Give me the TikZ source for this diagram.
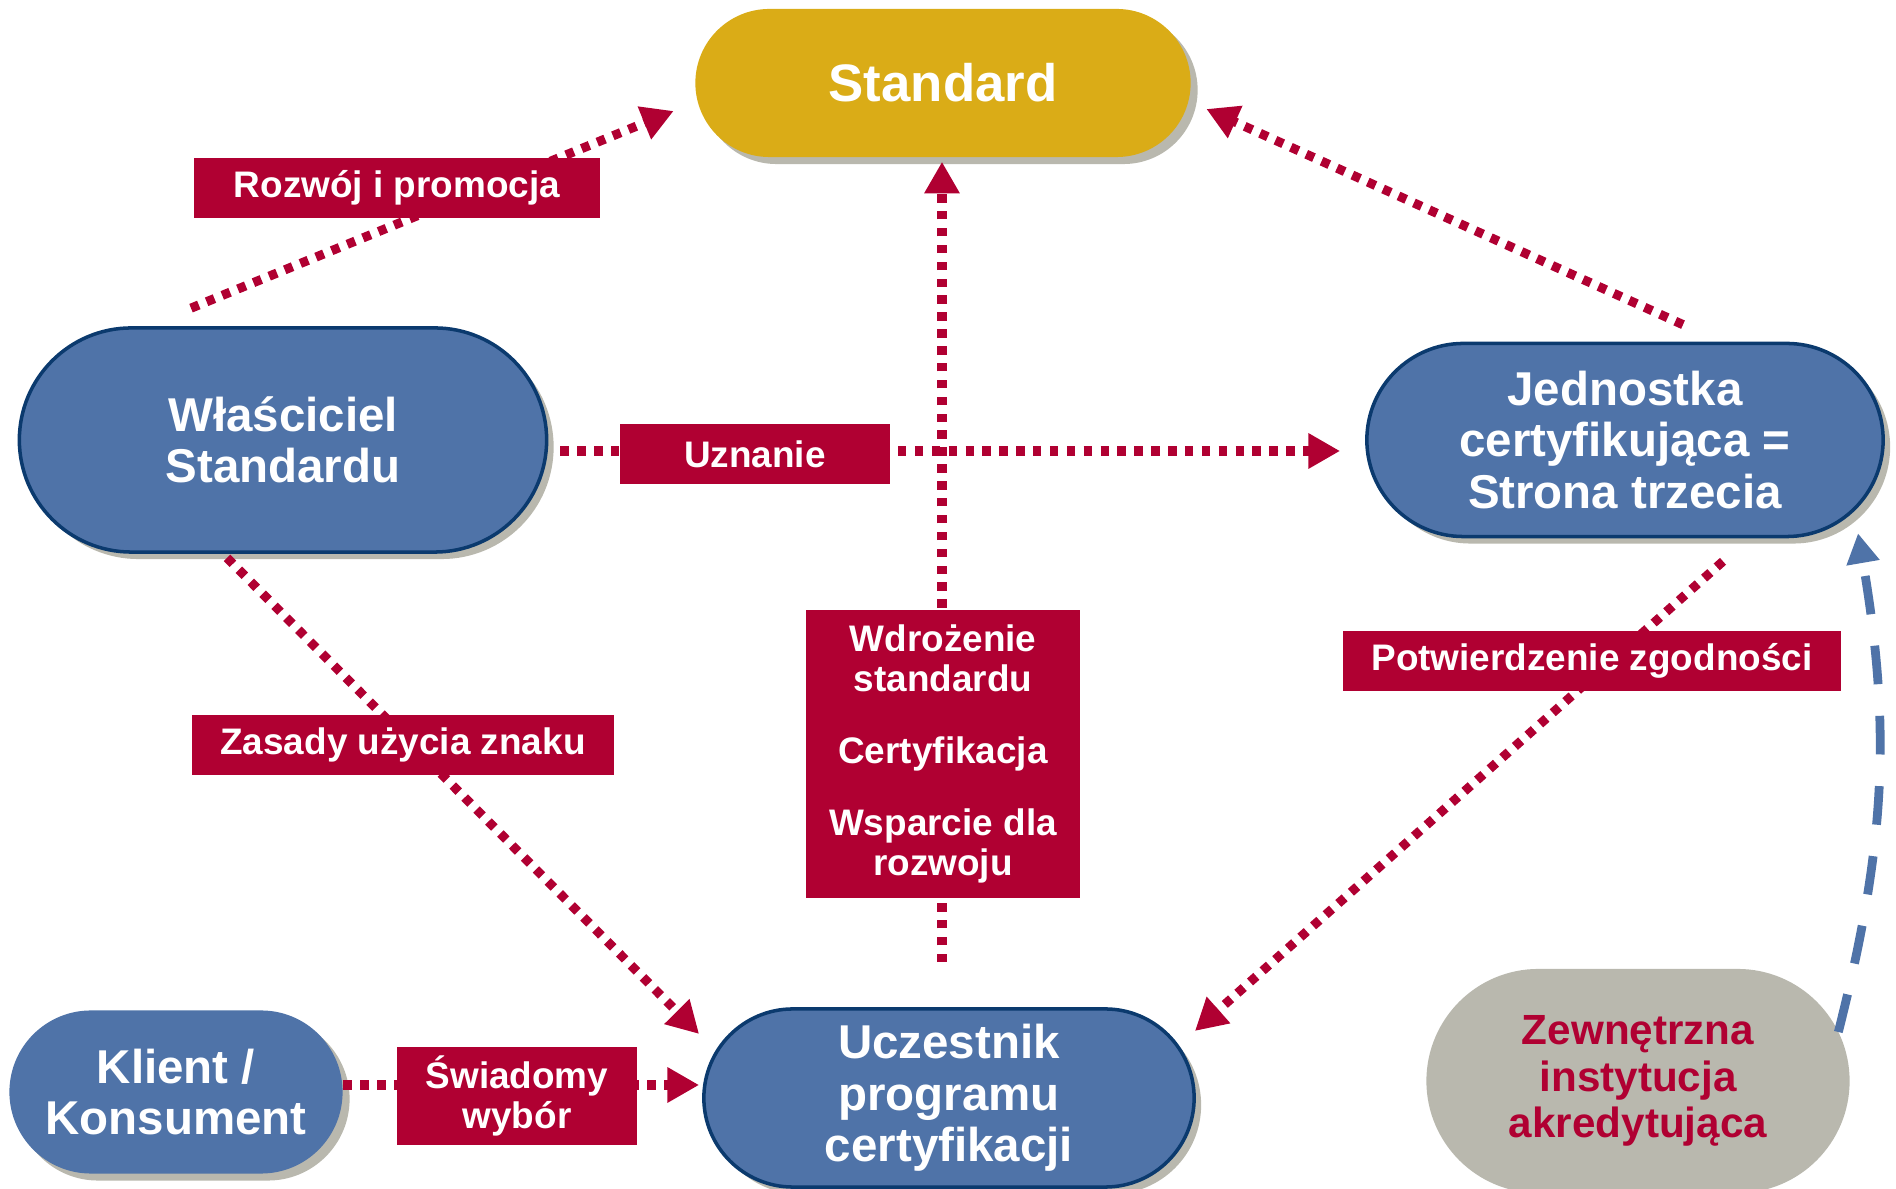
\documentclass[tikz,border=0pt]{standalone}
\usepackage{fontspec}
\setmainfont{Liberation Sans}
\usepackage{xcolor}
\usepackage{tikz}
\usetikzlibrary{arrows.meta}
\usetikzlibrary{calc}
\usetikzlibrary{shapes.misc}
\usetikzlibrary{shadows}
\definecolor{C0}{HTML}{4F73A8}
\definecolor{C1}{HTML}{0B3A6E}
\definecolor{C2}{HTML}{DAAC17}
\definecolor{C3}{HTML}{B00032}
\definecolor{C4}{HTML}{B9B8AE}
\tikzstyle{oval} = [rounded rectangle, fill=C0, text=white, align=center, inner sep=0pt, font=\fontsize{13.5}{14.6}\selectfont\bfseries, drop shadow={shadow xshift=0.07cm, shadow yshift=-0.07cm, fill=C4, opacity=1}]
\tikzstyle{rim} = [draw=C1, line width=1pt]
\tikzstyle{box} = [fill=C3, text=white, align=center, inner sep=0pt, font=\fontsize{10.5}{11.4}\selectfont\bfseries]
\tikzstyle{dotline} = [C3, line width=2.6pt, dash pattern=on 2.4pt off 2.4pt, -{Triangle[length=9pt, width=9.5pt]}]
\tikzstyle{dashline} = [C0, line width=2.5pt, dash pattern=on 11pt off 9pt, -{Triangle[length=8.5pt, width=9pt]}]

\begin{document}
\begin{tikzpicture}[x=0.01cm, y=-0.01cm]
	\useasboundingbox (0,0) rectangle (1896,1189);
	
	\node[oval, fill=C2, font=\fontsize{15}{16}\selectfont\bfseries, minimum width=4.95cm, minimum height=1.48cm] (standard) at (943,83) {Standard};
	\node[oval, rim, minimum width=5.27cm, minimum height=2.24cm] (owner) at (283,440) {Właściciel\\Standardu};
	\node[oval, rim, minimum width=5.16cm, minimum height=1.93cm] (body) at (1625,440) {Jednostka\\certyfikująca =\\Strona trzecia};
	\node[oval, rim, minimum width=4.9cm, minimum height=1.78cm] (member) at (949,1098) {Uczestnik\\programu\\certyfikacji};
	\node[oval, minimum width=3.33cm, minimum height=1.63cm] (client) at (176,1092) {Klient /\\Konsument};
	\node[rounded rectangle, fill=C4, text=C3, align=center, inner sep=0pt, font=\fontsize{12}{13.2}\selectfont\bfseries, minimum width=4.23cm, minimum height=2.24cm] (accred) at (1638,1081) {Zewnętrzna\\instytucja\\akredytująca};
	
	\draw[dotline] ($(owner.north)+(-92,-18)$) -- ($(standard.west)+(-21,28)$) ;
	\draw[dotline] ($(member.north)+(-7,-45)$) -- ($(standard.south)+(-1,4)$) ;
	\draw[dotline] ($(body.north)+(58,-17)$) -- ($(standard.east)+(15,26)$) ;
	\draw[dotline] ($(owner.east)+(12,11)$) -- ($(body.west)+(-25,11)$) ;
	\draw[dotline] ($(owner.south)+(-56,4)$) -- ($(member.west)+(-3,-64)$) ;
	\draw[dotline] ($(body.south)+(98,23)$) -- ($(member.east)+(-1,-67)$) ;
	\draw[dotline] ($(client.east)+(0,-7)$) -- ($(member.west)+(-3,-13)$) ;
	\draw[dashline] ($(accred.east)+(-12,-49)$) to[bend right=12] ($(body.south)+(233,-5)$) ;
	
	\node[box, minimum width=4.05cm, minimum height=0.59cm] (promo) at (397,188) {Rozwój i promocja};
	\node[box, minimum width=2.69cm, minimum height=0.59cm] (recog) at (755,454) {Uznanie};
	\node[box, minimum width=2.73cm, minimum height=2.87cm] (impl) at (943,754) {Wdrożenie\\standardu\\[9pt]Certyfikacja\\[9pt]Wsparcie dla\\rozwoju};
	\node[box, minimum width=4.97cm, minimum height=0.59cm] (confirm) at (1592,661) {Potwierdzenie zgodności};
	\node[box, minimum width=4.22cm, minimum height=0.59cm] (rules) at (403,745) {Zasady użycia znaku};
	\node[box, minimum width=2.4cm, minimum height=0.98cm] (choice) at (517,1096) {Świadomy\\wybór};
\end{tikzpicture}
\end{document}
